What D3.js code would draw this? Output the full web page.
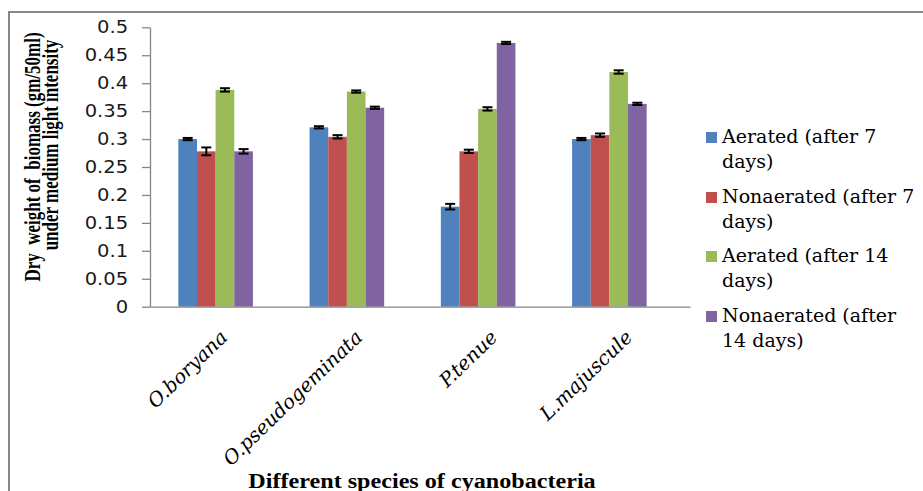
<!DOCTYPE html>
<html>
<head>
<meta charset="utf-8">
<script src="https://cdn.jsdelivr.net/npm/d3@7"></script>
<style>
  html, body { margin: 0; padding: 0; background: #fff; }
  svg { display: block; }
  .serif { font-family: "Liberation Serif", "Times New Roman", Times, serif; }
  .serif-r { font-family: "DejaVu Serif", "Liberation Serif", serif; }
</style>
</head>
<body>
<div id="chart"></div>
<script>
// ---------- data ----------
const categories = ["O.boryana", "O.pseudogeminata", "P.tenue", "L.majuscule"];
const seriesKeys = ["aer7", "non7", "aer14", "non14"];
const legendLines = [
  ["Aerated (after 7", "days)"],
  ["Nonaerated (after 7", "days)"],
  ["Aerated (after 14", "days)"],
  ["Nonaerated (after", "14 days)"]
];
const seriesColors = ["#4F81BD", "#C0504D", "#9BBB59", "#8064A2"];
const aerated7     = [0.300, 0.321, 0.179, 0.300];
const nonaerated7  = [0.278, 0.304, 0.278, 0.307];
const aerated14    = [0.388, 0.385, 0.354, 0.420];
const nonaerated14 = [0.278, 0.356, 0.472, 0.363];
const errAerated7     = [0.002, 0.002, 0.005, 0.002];
const errNonaerated7  = [0.007, 0.003, 0.003, 0.003];
const errAerated14    = [0.003, 0.002, 0.003, 0.003];
const errNonaerated14 = [0.004, 0.002, 0.002, 0.002];
const yTicks = [0, 0.05, 0.1, 0.15, 0.2, 0.25, 0.3, 0.35, 0.4, 0.45, 0.5];
const yTickLabels = ["0", "0.05", "0.1", "0.15", "0.2", "0.25", "0.3", "0.35", "0.4", "0.45", "0.5"];
const yTitleLines = ["Dry  weight of  biomass (gm/50ml)", "under medium light intensity"];
const xTitle = "Different species of cyanobacteria";

const values = [aerated7, nonaerated7, aerated14, nonaerated14];
const errors = [errAerated7, errNonaerated7, errAerated14, errNonaerated14];

// ---------- layout ----------
const W = 923, H = 491;
const SX = 1.15; // horizontal text stretch seen in the reference
const svg = d3.select("#chart").append("svg").attr("width", W).attr("height", H);

// frame
svg.append("rect").attr("x", 9).attr("y", 12).attr("width", 960).attr("height", 520)
  .attr("fill", "none").attr("stroke", "#878787").attr("stroke-width", 2);

const y = d3.scaleLinear().domain([0, 0.5]).range([306.7, 27.3]);
const x0 = d3.scaleBand().domain(categories).range([150, 675]).padding(0);
const x1 = d3.scaleBand().domain(seriesKeys).range([0, x0.bandwidth()]).paddingInner(0).paddingOuter(1.52);
const xAxisScale = d3.scaleBand().domain(categories).range([150, 690]).padding(0);

// bars
const groups = svg.append("g").selectAll("g").data(categories).join("g")
  .attr("transform", d => `translate(${x0(d)},0)`);

groups.each(function(cat, ci) {
  const g = d3.select(this);
  const rows = seriesKeys.map((k, si) => ({k, si, v: values[si][ci], e: errors[si][ci]}));
  g.selectAll("rect").data(rows).join("rect")
    .attr("x", d => x1(d.k))
    .attr("y", d => y(d.v))
    .attr("width", x1.bandwidth())
    .attr("height", d => y(0) - y(d.v))
    .attr("fill", d => seriesColors[d.si]);
  const eb = g.selectAll("g.err").data(rows).join("g").attr("class", "err");
  const cx = d => x1(d.k) + x1.bandwidth() / 2;
  const capW = 5;
  eb.append("line").attr("x1", cx).attr("x2", cx)
    .attr("y1", d => y(d.v + d.e)).attr("y2", d => y(d.v - d.e))
    .attr("stroke", "#000").attr("stroke-width", 2);
  eb.append("line").attr("x1", d => cx(d) - capW).attr("x2", d => cx(d) + capW)
    .attr("y1", d => y(d.v + d.e)).attr("y2", d => y(d.v + d.e))
    .attr("stroke", "#000").attr("stroke-width", 2);
  eb.append("line").attr("x1", d => cx(d) - capW).attr("x2", d => cx(d) + capW)
    .attr("y1", d => y(d.v - d.e)).attr("y2", d => y(d.v - d.e))
    .attr("stroke", "#000").attr("stroke-width", 2);
});

// y axis
const yAxis = svg.append("g").attr("transform", "translate(150,0)")
  .call(d3.axisLeft(y).tickValues(yTicks).tickFormat((d, i) => yTickLabels[i])
    .tickSize(8).tickSizeOuter(0).tickPadding(11));
yAxis.select(".domain").attr("stroke", "#868686").attr("stroke-width", 1.3);
yAxis.selectAll(".tick line").attr("stroke", "#868686").attr("stroke-width", 1.3);
yAxis.selectAll(".tick text")
  .attr("font-family", "'DejaVu Sans', sans-serif").attr("font-size", 17).attr("fill", "#1a1a1a")
  .attr("transform", `scale(${SX},1)`);

// x axis
const xAxis = svg.append("g").attr("transform", `translate(0,${y(0)})`)
  .call(d3.axisBottom(xAxisScale).tickSize(0).tickSizeOuter(0).tickFormat(""));
xAxis.select(".domain").attr("stroke", "#868686").attr("stroke-width", 1.3);

svg.append("g").selectAll("text").data(categories).join("text")
  .attr("class", "serif-r")
  .attr("transform", d => `translate(${xAxisScale(d) + xAxisScale.bandwidth() / 2 + 11},${y(0) + 32}) rotate(-44)`)
  .attr("text-anchor", "end")
  .attr("font-style", "italic")
  .attr("font-size", 19.5)
  .attr("fill", "#000")
  .text(d => d);

// y title
svg.append("g").selectAll("text").data(yTitleLines).join("text")
  .attr("class", "serif")
  .attr("transform", (d, i) => `translate(${i === 0 ? 40 : 58},${i === 0 ? 157 : 145}) scale(1.3,1) rotate(-90)`)
  .attr("text-anchor", "middle")
  .attr("font-weight", "bold")
  .attr("font-size", 17)
  .style("white-space", "pre")
  .attr("fill", "#000")
  .text(d => d);

// x title
svg.append("text")
  .attr("class", "serif")
  .attr("transform", `translate(422,488) scale(${SX},1)`)
  .attr("text-anchor", "middle")
  .attr("font-weight", "bold")
  .attr("font-size", 21)
  .attr("fill", "#000")
  .text(xTitle);

// legend
const legendBaselines = [143, 203, 262, 322];
const leg = svg.append("g").selectAll("g").data(legendLines).join("g")
  .attr("transform", (d, i) => `translate(706,${legendBaselines[i]})`);
leg.append("rect").attr("x", 0).attr("y", -11).attr("width", 11).attr("height", 11)
  .attr("fill", (d, i) => seriesColors[i]);
leg.each(function(lines) {
  const g = d3.select(this);
  lines.forEach((ln, li) => {
    g.append("text")
      .attr("class", "serif-r")
      .attr("transform", `translate(16,${li * 25})`)
      .attr("font-size", 19)
      .attr("fill", "#000")
      .text(ln);
  });
});
</script>
</body>
</html>
